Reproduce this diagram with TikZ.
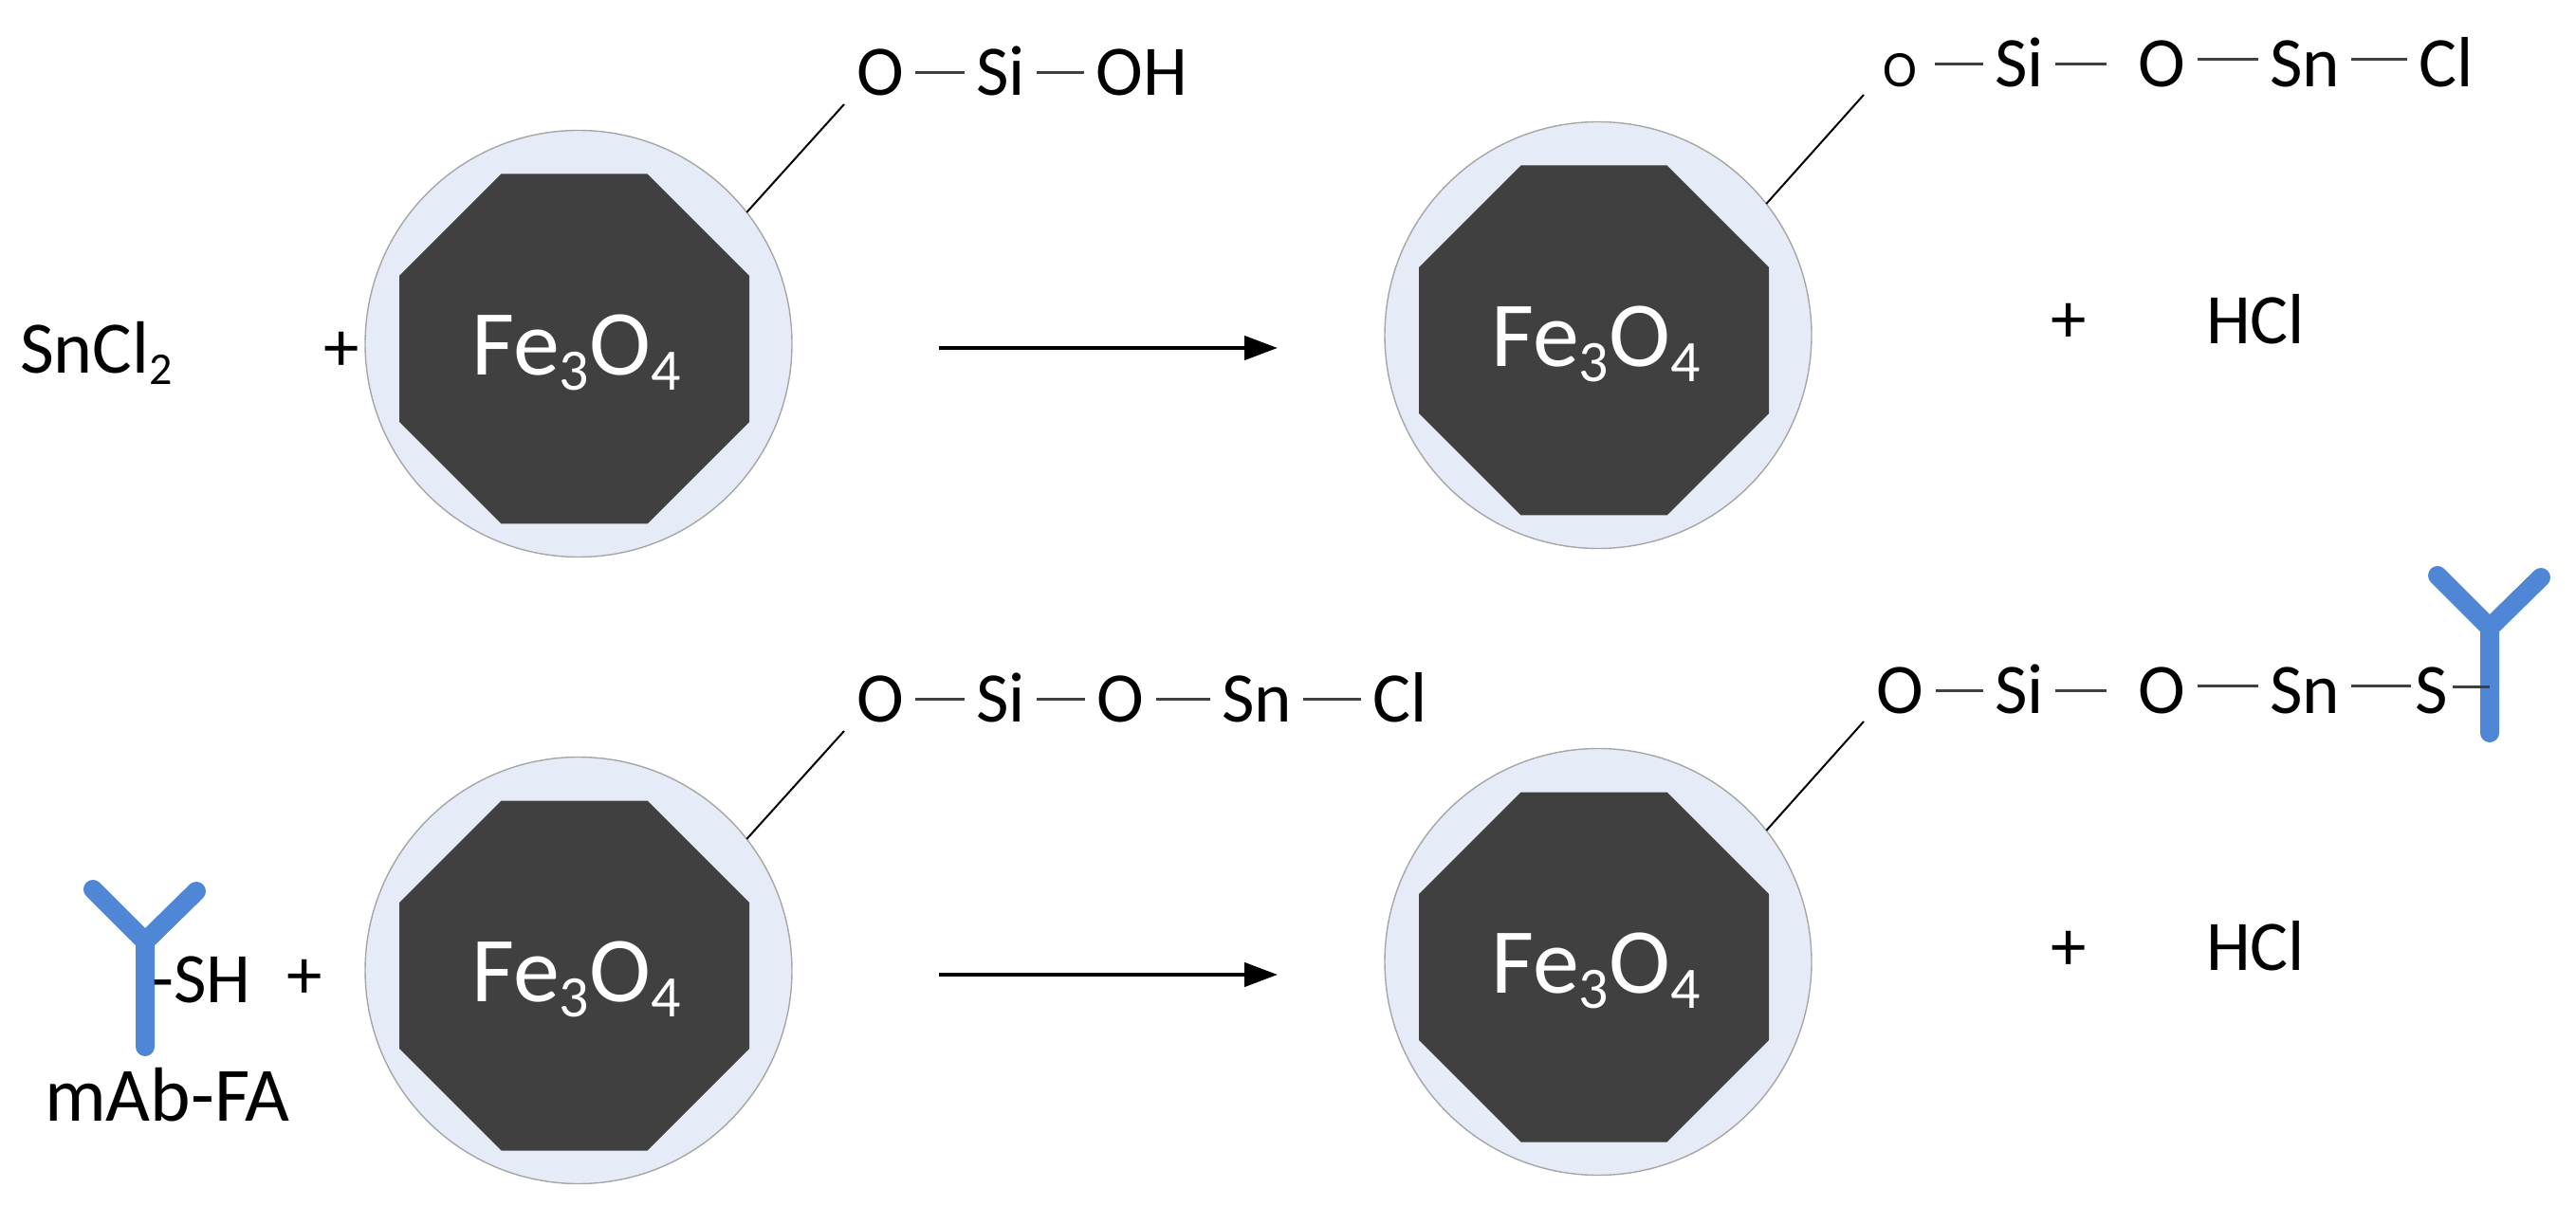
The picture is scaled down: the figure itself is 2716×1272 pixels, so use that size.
\documentclass[tikz,border=0pt]{standalone}
\usepackage{fontspec}
\setmainfont{Carlito}
\usetikzlibrary{arrows.meta}
\definecolor{shellfill}{HTML}{E6ECF7}
\definecolor{shelledge}{HTML}{A6A6A6}
\definecolor{corefill}{HTML}{404040}
\definecolor{abblue}{HTML}{4F86D6}
\definecolor{bondgray}{HTML}{404040}
\newcommand{\feox}{Fe{\raisebox{-8pt}{\fontsize{31}{31}\selectfont 3}}O{\raisebox{-8pt}{\fontsize{31}{31}\selectfont 4}}}
\newcommand{\particle}[3]{% name, circle centre x, y
  \node[shell] (#1) at (#2,#3) {};
  \fill[corefill] (#2-4.5-77,#3+5.5-184.5) -- (#2-4.5+77,#3+5.5-184.5) -- (#2-4.5+184.5,#3+5.5-77) -- (#2-4.5+184.5,#3+5.5+77)
    -- (#2-4.5+77,#3+5.5+184.5) -- (#2-4.5-77,#3+5.5+184.5) -- (#2-4.5-184.5,#3+5.5+77) -- (#2-4.5-184.5,#3+5.5-77) -- cycle;
  \node[coretext] (#1t) at (#2-2.5,#3+4) {\feox};
}
\newcommand{\antibody}[3]{% name, stem x, stem end y
  \coordinate (#1j) at (#2,#3-111);
  \coordinate (#1l) at (#2-55,#3-166);
  \coordinate (#1r) at (#2+54,#3-164);
  \coordinate (#1b) at (#2,#3);
  \draw[abstyle] (#1l) -- (#1j) -- (#1b);
  \draw[abstyle] (#1r) -- (#1j);
}
\tikzset{
  shell/.style={circle,draw=shelledge,line width=0.7pt,fill=shellfill,minimum size=225pt,inner sep=0pt,outer sep=0pt},
  coretext/.style={text=white,font=\fontsize{49}{52}\selectfont,inner sep=0pt,text height=29pt,text depth=0pt},
  chem/.style={text=black,font=\fontsize{37.5}{42}\selectfont,inner xsep=6pt,inner ysep=0pt,text height=24pt,text depth=0pt},
  bond/.style={draw=bondgray,line width=1.5pt},
  link/.style={draw=black,line width=1pt},
  rxn/.style={draw=black,line width=2.2pt,-{Triangle[length=17.5pt,width=12.5pt]}},
  abstyle/.style={draw=abblue,line width=10pt,line cap=round,line join=miter},
}
\begin{document}
\begin{tikzpicture}[x=0.5pt,y=-0.5pt]
\useasboundingbox (0,0) rectangle (2716,1272);
% particles
\particle{pa}{610}{362.5}
\particle{pb}{1685}{353.5}
\particle{pc}{610}{1023.5}
\particle{pd}{1685}{1014.5}
% row 1 left
\node[chem] (a1) at (928,77) {O};
\node[chem] (a2) at (1055,77) {Si};
\node[chem] (a3) at (1204,77) {OH};
\draw[bond] (a1) -- (a2);
\draw[bond] (a2) -- (a3);
\coordinate (a0) at (890,110);
\draw[link] (pa.38.6) -- (a0);
\node[chem,font=\fontsize{39}{42}\selectfont] (sncl) at (101.5,370) {SnCl{\raisebox{-6pt}{\fontsize{24}{24}\selectfont 2}}};
\node[chem] (plusa) at (360,368) {+};
% row 1 right
\node[chem,font=\fontsize{27}{30}\selectfont,inner xsep=9pt] (b1) at (2003.5,68) {O};
\node[chem] (b2) at (2129,68) {Si};
\node[chem] (b3) at (2279.5,68) {O};
\node[chem] (b4) at (2430,68) {Sn};
\node[chem] (b5) at (2579,68) {Cl};
\draw[bond] (b1) -- (b2);
\draw[bond] (b2.east) -- ++(54,0);
\draw[bond] ([yshift=2.5pt]b3.east) -- ([yshift=2.5pt]b4.west);
\draw[bond] ([yshift=2.5pt]b4.east) -- ([yshift=2.5pt]b5.west);
\coordinate (b0) at (1965,100);
\draw[link] (pb.38.6) -- (b0);
\node[chem] (plusb) at (2181.5,338) {+};
\node[chem] (hcla) at (2378,338.5) {HCl};
% row 2 left
\node[chem] (c1) at (928,738) {O};
\node[chem] (c2) at (1055,738) {Si};
\node[chem] (c3) at (1181.5,738) {O};
\node[chem] (c4) at (1325,738) {Sn};
\node[chem] (c5) at (1476,738) {Cl};
\draw[bond] (c1) -- (c2);
\draw[bond] (c2) -- (c3);
\draw[bond] (c3) -- (c4);
\draw[bond] (c4) -- (c5);
\coordinate (c0) at (890,771);
\draw[link] (pc.38.6) -- (c0);
\antibody{ya}{153}{1104}
\node[chem,inner xsep=0pt] (sh) at (212.5,1033) {-SH};
\node[chem] (plusc) at (321.5,1029) {+};
\node[chem,inner xsep=0pt,font=\fontsize{40.5}{44}\selectfont] (mab) at (176.5,1158.5) {mAb-FA};
% row 2 right
\node[chem] (d1) at (2003.5,729) {O};
\node[chem] (d2) at (2129,729) {Si};
\node[chem] (d3) at (2279.5,729) {O};
\node[chem] (d4) at (2430,729) {Sn};
\node[chem,inner xsep=2pt] (d5) at (2564,729) {S};
\draw[bond] (d1) -- (d2);
\draw[bond] (d2.east) -- ++(54,0);
\draw[bond] ([yshift=2.5pt]d3.east) -- ([yshift=2.5pt]d4.west);
\draw[bond] ([yshift=2.5pt]d4.east) -- ([yshift=2.5pt]d5.west);
\coordinate (d0) at (1965,761);
\draw[link] (pd.38.6) -- (d0);
\antibody{yb}{2625}{773}
\coordinate (d5e) at ([yshift=2pt]d5.east);
\draw[bond] (d5e) -- (d5e -| ybj);
\node[chem] (plusd) at (2181.5,999) {+};
\node[chem] (hclb) at (2378,999.5) {HCl};
% arrows
\coordinate (r1s) at (990,367); \coordinate (r1e) at (1347,367);
\coordinate (r2s) at (990,1028); \coordinate (r2e) at (1347,1028);
\draw[rxn] (r1s) -- (r1e);
\draw[rxn] (r2s) -- (r2e);
\end{tikzpicture}
\end{document}
